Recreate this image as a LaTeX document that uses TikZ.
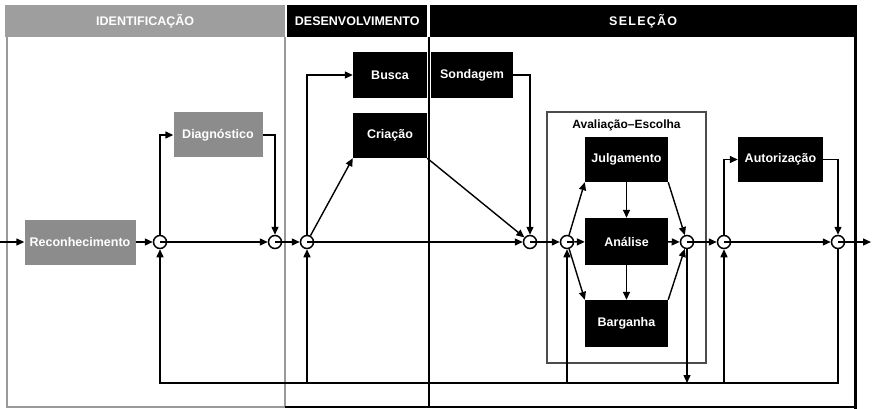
\documentclass[tikz,border=0pt]{standalone}
\usepackage{fontspec}
\setmainfont{Liberation Sans}
\usetikzlibrary{arrows.meta}
\definecolor{headgray}{gray}{0.62}
\definecolor{boxgray}{gray}{0.55}
\definecolor{rulegray}{gray}{0.6}
\definecolor{framegray}{gray}{0.3}
\begin{document}
\begin{tikzpicture}[x=1pt,y=-1pt,
  font=\fontsize{12.5}{14}\selectfont\bfseries,
  wire/.style={line width=1.4pt},
  flow/.style={line width=1.4pt,-{Triangle[length=8pt,width=7pt]}},
  header/.style={anchor=north west,minimum height=32pt,inner sep=0pt,text=white},
  graybox/.style={fill=boxgray,text=white,inner sep=0pt},
  blackbox/.style={fill=black,text=white,inner sep=0pt},
  junction/.style={circle,draw,line width=1.5pt,fill=white,minimum size=13pt,inner sep=0pt,
    path picture={\draw[line width=1.4pt] (path picture bounding box.center) -- (path picture bounding box.east);}},
]
\useasboundingbox (0,0) rectangle (873,409);

% phase headers
\node[header,fill=headgray,minimum width=280pt] (hid) at (5,5) {IDENTIFICAÇÃO};
\node[header,fill=black,minimum width=140pt] (hdev) at (287,5) {DESENVOLVIMENTO};
\node[header,fill=black,minimum width=426pt] (hsel) at (430,5) {\addfontfeature{LetterSpace=10}SELEÇÃO};

% phase panels
\draw[rulegray,line width=1.5pt] (7,37) -- (7,407) -- (285,407) -- (285,37);
\draw[line width=2pt] (428.5,37) -- (428.5,407);
\draw[line width=3pt] (855.5,5) -- (855.5,408.5);
\draw[line width=2pt] (285,407) -- (857,407);

% evaluation-choice group
\draw[framegray,line width=2.2pt] (547,112) rectangle (706,363);
\node[font=\fontsize{12}{13}\selectfont\bfseries] (aeTitle) at (626.5,125) {Avaliação–Escolha};

% activity boxes
\node[graybox,minimum width=111pt,minimum height=45pt] (rec) at (80,242) {Reconhecimento};
\node[graybox,minimum width=89pt,minimum height=45pt] (diag) at (218,135) {Diagnóstico};
\node[blackbox,minimum width=74pt,minimum height=46pt] (busca) at (390,75) {Busca};
\node[blackbox,minimum width=82pt,minimum height=46pt] (sond) at (472,75) {Sondagem};
\node[blackbox,minimum width=74pt,minimum height=45pt] (cria) at (390,135.5) {Criação};
\node[blackbox,minimum width=83pt,minimum height=45pt] (julg) at (626.5,159.5) {Julgamento};
\node[blackbox,minimum width=83pt,minimum height=47pt] (anal) at (626.5,241.5) {Análise};
\node[blackbox,minimum width=83pt,minimum height=47pt] (barg) at (626.5,323.5) {Barganha};
\node[blackbox,minimum width=85pt,minimum height=45pt] (aut) at (780.5,159.5) {Autorização};

% junction points on the main line
\node[junction] (c1) at (160,242) {};
\node[junction] (c2) at (275,242) {};
\node[junction] (c3) at (307,242) {};
\node[junction] (c4) at (530,242) {};
\node[junction] (c5) at (567,242) {};
\node[junction] (c6) at (687,242) {};
\node[junction] (c7) at (724,242) {};
\node[junction] (c8) at (838,242) {};

\coordinate (in) at (0,242);
\coordinate (out) at (871,242);
\coordinate (fb) at (160,383);

% main line
\draw[flow] (in) -- (rec);
\draw[flow] (rec) -- (c1);
\draw[flow] (c1) -- (c2);
\draw[flow] (c2) -- (c3);
\draw[flow] (c3) -- (c4);
\draw[flow] (c4) -- (c5);
\draw[flow] (c5) -- (anal);
\draw[flow] (anal) -- (c6);
\draw[flow] (c6) -- (c7);
\draw[flow] (c7) -- (c8);
\draw[flow] (c8) -- (out);

% branches
\draw[flow] (c1.north) |- (diag.west);
\draw[flow] (diag.east) -| (c2.north);
\draw[flow] (c3.north) |- (busca.west);
\draw[flow] (c3) -- (cria.south west);
\draw[flow] (sond.east) -| (c4.north);
\draw[flow] (cria.south east) -- (c4);
\draw[flow] (c5) -- (julg.south west);
\draw[flow] (c5) -- (barg.north west);
\draw[flow] (julg) -- (anal);
\draw[flow] (anal) -- (barg);
\draw[flow] (julg.south east) -- (c6);
\draw[flow] (barg.north east) -- (c6);
\draw[flow] (c7.north) |- (aut.west);
\draw[flow] (aut.east) -| (c8.north);

% feedback loop
\draw[flow] (c8.south) -- (c8 |- fb) -- (fb) -- (c1.south);
\draw[flow] (c3 |- fb) -- (c3.south);
\draw[flow] (c5 |- fb) -- (c5.south);
\draw[flow] (c7 |- fb) -- (c7.south);
\draw[flow] (c6.south) -- (c6 |- fb);
\end{tikzpicture}
\end{document}
